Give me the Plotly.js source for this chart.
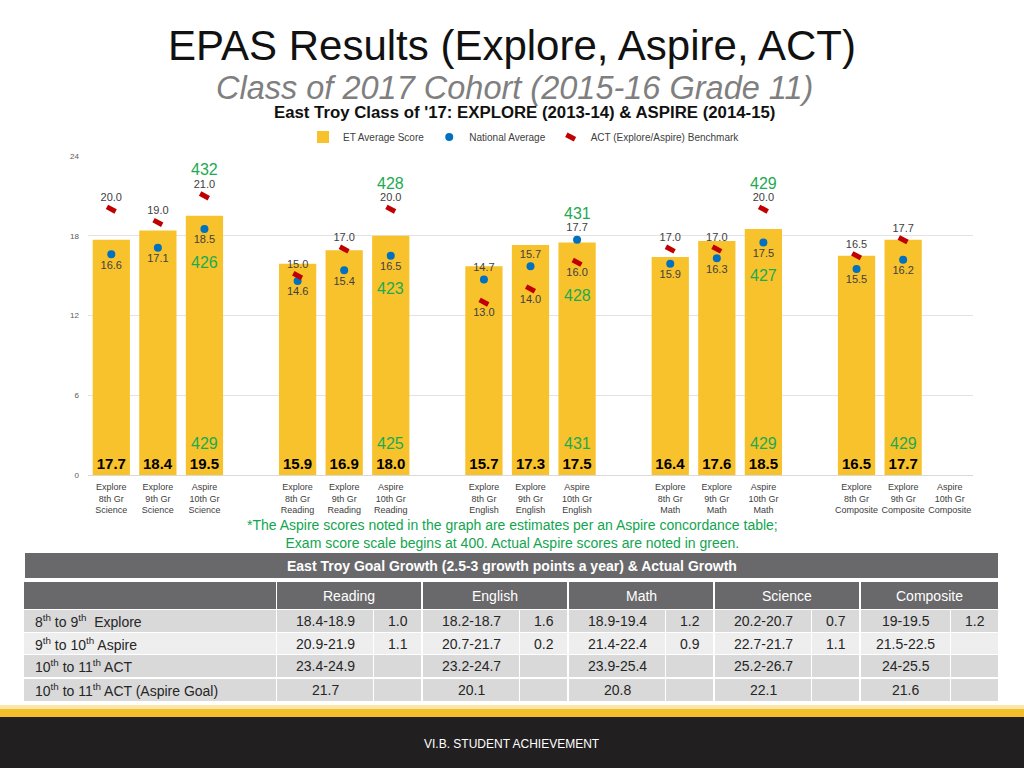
<!DOCTYPE html>
<html>
<head>
<meta charset="utf-8">
<script src="https://cdn.plot.ly/plotly-3.0.1.min.js"></script>
<style>
  html, body { margin: 0; padding: 0; background: #ffffff; }
  #chart { width: 1024px; height: 768px; }
</style>
</head>
<body>
<div id="chart"></div>
<script>
// ---------------- DATA ----------------
const categories = [
  'Explore<br>8th Gr<br>Science', 'Explore<br>9th Gr<br>Science', 'Aspire<br>10th Gr<br>Science',
  'Explore<br>8th Gr<br>Reading', 'Explore<br>9th Gr<br>Reading', 'Aspire<br>10th Gr<br>Reading',
  'Explore<br>8th Gr<br>English', 'Explore<br>9th Gr<br>English', 'Aspire<br>10th Gr<br>English',
  'Explore<br>8th Gr<br>Math', 'Explore<br>9th Gr<br>Math', 'Aspire<br>10th Gr<br>Math',
  'Explore<br>8th Gr<br>Composite', 'Explore<br>9th Gr<br>Composite', 'Aspire<br>10th Gr<br>Composite'
];
const etScore     = [17.7, 18.4, 19.5, 15.9, 16.9, 18.0, 15.7, 17.3, 17.5, 16.4, 17.6, 18.5, 16.5, 17.7, null];
const nationalAvg = [16.6, 17.1, 18.5, 14.6, 15.4, 16.5, 14.7, 15.7, 17.7, 15.9, 16.3, 17.5, 15.5, 16.2, null];
const benchmark   = [20.0, 19.0, 21.0, 15.0, 17.0, 20.0, 13.0, 14.0, 16.0, 17.0, 17.0, 20.0, 16.5, 17.7, null];

// Actual Aspire scores (green)
const greenUpperCats = ['Aspire<br>10th Gr<br>Science', 'Aspire<br>10th Gr<br>Reading', 'Aspire<br>10th Gr<br>English', 'Aspire<br>10th Gr<br>Math'];
const greenUpper = [432, 428, 431, 429];
const greenMiddle = [426, 423, 428, 427];
const greenBaseCats = ['Aspire<br>10th Gr<br>Science', 'Aspire<br>10th Gr<br>Reading', 'Aspire<br>10th Gr<br>English', 'Aspire<br>10th Gr<br>Math', 'Explore<br>9th Gr<br>Composite'];
const greenBase = [429, 425, 431, 429, 429];

// Table
const subjects = ['Reading', 'English', 'Math', 'Science', 'Composite'];
const rowLabels = [
  '8<sup>th</sup> to 9<sup>th</sup>  Explore',
  '9<sup>th</sup> to 10<sup>th</sup> Aspire',
  '10<sup>th</sup> to 11<sup>th</sup> ACT',
  '10<sup>th</sup> to 11<sup>th</sup> ACT (Aspire Goal)'
];
const readingGoal   = ['18.4-18.9', '20.9-21.9', '23.4-24.9', '21.7'];
const readingGrowth = ['1.0', '1.1', '', ''];
const englishGoal   = ['18.2-18.7', '20.7-21.7', '23.2-24.7', '20.1'];
const englishGrowth = ['1.6', '0.2', '', ''];
const mathGoal      = ['18.9-19.4', '21.4-22.4', '23.9-25.4', '20.8'];
const mathGrowth    = ['1.2', '0.9', '', ''];
const scienceGoal   = ['20.2-20.7', '22.7-21.7', '25.2-26.7', '22.1'];
const scienceGrowth = ['0.7', '1.1', '', ''];
const compositeGoal   = ['19-19.5', '21.5-22.5', '24-25.5', '21.6'];
const compositeGrowth = ['1.2', '', '', ''];

// ---------------- BUILD ----------------
const W = 1024, H = 768;
const px = x => x / W;
const py = y => 1 - y / H;

// axis categories with spacer slots between the subject groups
const groupSize = 3;
const fullCats = [];
categories.forEach((c, i) => {
  fullCats.push(c);
  if ((i + 1) % groupSize === 0 && i < categories.length - 1) fullCats.push('gap' + (i + 1));
});
// keep only points that have a value
function pick(vals, extra) {
  const idx = vals.map((v, i) => v == null ? -1 : i).filter(i => i >= 0);
  return { x: idx.map(i => categories[i]), y: idx.map(i => vals[i]), idx: idx };
}
const isEnglish = categories.map(c => c.indexOf('English') >= 0);
const etP = pick(etScore), natP = pick(nationalAvg), benP = pick(benchmark);

const FONT = 'Liberation Sans, Arial, sans-serif';

const traces = [
  {
    type: 'bar', name: 'ET Average Score',
    x: etP.x, y: etP.y,
    marker: { color: '#F8C22C' },
    texttemplate: '%{y:.1f}', textposition: 'inside', insidetextanchor: 'start',
    constraintext: 'none', textangle: 0,
    textfont: { size: 15, color: '#000000', family: FONT, weight: 'bold' },
    hoverinfo: 'skip'
  },
  {
    type: 'scatter', mode: 'markers+text', name: 'National Average',
    x: natP.x, y: natP.y,
    text: natP.y.map(v => v.toFixed(1)),
    textposition: natP.idx.map(i => isEnglish[i] ? 'top center' : 'bottom center'),
    textfont: { size: 11, color: '#404040', family: FONT },
    marker: { color: '#0070C0', size: 8 },
    cliponaxis: false, hoverinfo: 'skip'
  },
  {
    type: 'scatter', mode: 'markers+text', name: 'ACT (Explore/Aspire) Benchmark',
    x: benP.x, y: benP.y,
    text: benP.y.map(v => v.toFixed(1)),
    textposition: benP.idx.map(i => isEnglish[i] ? 'bottom center' : 'top center'),
    textfont: { size: 11, color: '#404040', family: FONT },
    marker: { symbol: 'line-ew', size: 7, angle: 28, color: '#C00000', line: { color: '#C00000', width: 5 } },
    cliponaxis: false, hoverinfo: 'skip'
  }
];

const annotations = [];
const shapes = [];
const GREEN = '#1DAA50';

// green actual Aspire scores
greenUpperCats.forEach((c, k) => {
  const i = categories.indexOf(c);
  const hi = Math.max(benchmark[i], nationalAvg[i]);
  const lo = Math.min(benchmark[i], nationalAvg[i]);
  annotations.push({ x: c, y: hi, xref: 'x', yref: 'y', text: String(greenUpper[k]), showarrow: false,
    yanchor: 'middle', yshift: 26, font: { size: 16, color: GREEN, family: FONT } });
  annotations.push({ x: c, y: lo, xref: 'x', yref: 'y', text: String(greenMiddle[k]), showarrow: false,
    yanchor: 'middle', yshift: -33, font: { size: 16, color: GREEN, family: FONT } });
});
greenBaseCats.forEach((c, k) => {
  annotations.push({ x: c, y: 0, xref: 'x', yref: 'y', text: String(greenBase[k]), showarrow: false,
    yanchor: 'middle', yshift: 32, font: { size: 16, color: GREEN, family: FONT } });
});

function txt(x, y, s, size, color, anchor, bold) {
  if (s === '' || s == null) return;
  annotations.push({ x: px(x), y: py(y), xref: 'paper', yref: 'paper', showarrow: false,
    xanchor: anchor || 'center', yanchor: 'middle',
    text: bold ? '<b>' + s + '</b>' : s, font: { size: size, color: color, family: FONT } });
}
function rect(x0, y0, x1, y1, color) {
  shapes.push({ type: 'rect', xref: 'paper', yref: 'paper', x0: px(x0), x1: px(x1), y0: py(y1), y1: py(y0),
    fillcolor: color, line: { width: 0 }, layer: 'above' });
}

// slide texts
txt(514, 88, '<i>Class of 2017 Cohort (2015-16 Grade 11)</i>', 32.5, '#7F7F7F');
txt(524, 112, "East Troy Class of '17: EXPLORE (2013-14) & ASPIRE (2014-15)", 16.8, '#111111', 'center', true);
txt(512, 534, '*The Aspire scores noted in the graph are estimates per an Aspire concordance table;<br>Exam score scale begins at 400. Actual Aspire scores are noted in green.', 14, '#12A54F');

// ---------------- TABLE ----------------
const DARK = '#69696B';
const tLeft = 24, tRight = 998;
const labelCol = [24, 276];
const subjCols = [[277, 373, 421], [423, 519, 567], [569, 665, 713], [715, 811, 859], [861, 950, 998]];
const rowsY = [[610, 632], [633, 654], [655, 677], [679, 701]];
const rowFill = ['#D9D9D9', '#EEEEEE', '#D9D9D9', '#D9D9D9'];
const goals = [readingGoal, englishGoal, mathGoal, scienceGoal, compositeGoal];
const growths = [readingGrowth, englishGrowth, mathGrowth, scienceGrowth, compositeGrowth];

rect(tLeft + 1, 553, tRight, 578, DARK);
txt(512, 566, 'East Troy Goal Growth (2.5-3 growth points a year) & Actual Growth', 14, '#FFFFFF', 'center', true);
rect(labelCol[0], 582, labelCol[1], 609, DARK);
subjCols.forEach((c, s) => {
  rect(c[0], 582, c[2], 609, DARK);
  txt((c[0] + c[2]) / 2, 596, subjects[s], 14, '#FFFFFF');
});
rowsY.forEach((r, ri) => {
  rect(labelCol[0], r[0], labelCol[1], r[1], rowFill[ri]);
  txt(33, (r[0] + r[1]) / 2, rowLabels[ri], 14, '#262626', 'left');
  subjCols.forEach((c, s) => {
    rect(c[0], r[0], c[1], r[1], rowFill[ri]);
    rect(c[1] + 1, r[0], c[2], r[1], rowFill[ri]);
    txt((c[0] + c[1]) / 2, (r[0] + r[1]) / 2, goals[s][ri], 14, '#262626');
    txt((c[1] + 1 + c[2]) / 2, (r[0] + r[1]) / 2, growths[s][ri], 14, '#262626');
  });
});

// footer
rect(0, 705, W, 710, '#FBE6A8');
rect(0, 709, W, 717, '#F4BD2A');
rect(0, 717, W, H, '#221F20');
txt(512, 744, 'VI.B. STUDENT ACHIEVEMENT', 12, '#FFFFFF');

const layout = {
  width: W, height: H,
  margin: { l: 0, r: 0, t: 0, b: 0 },
  paper_bgcolor: '#FFFFFF', plot_bgcolor: '#FFFFFF',
  font: { family: FONT, color: '#404040' },
  title: { text: 'EPAS Results (Explore, Aspire, ACT)', x: 0.5, xanchor: 'center', xref: 'paper',
           y: py(45), yanchor: 'middle', yref: 'container',
           font: { size: 42, color: '#111111', family: FONT } },
  showlegend: true,
  legend: { orientation: 'h', x: px(524), xanchor: 'center', y: py(137), yanchor: 'middle',
            font: { size: 10, color: '#404040', family: FONT }, itemwidth: 30, bgcolor: 'rgba(0,0,0,0)' },
  bargap: 0.2,
  xaxis: {
    domain: [px(88), px(973)],
    type: 'category', categoryorder: 'array', categoryarray: fullCats,
    range: [-0.5, fullCats.length - 0.5], autorange: false,
    tickmode: 'array', tickvals: categories, ticktext: categories, tickangle: 0,
    tickfont: { size: 9, color: '#404040', family: FONT }, ticklabelstandoff: 3,
    showline: true, linecolor: '#D9D9D9', linewidth: 1, ticks: '', showgrid: false, fixedrange: true
  },
  yaxis: {
    domain: [py(475), py(156)],
    range: [0, 24], autorange: false, tickvals: [0, 6, 12, 18, 24],
    tickfont: { size: 8, color: '#595959', family: FONT }, ticklabelstandoff: 8,
    showgrid: true, gridcolor: '#E3E3E3', gridwidth: 1, zeroline: false, showline: false, ticks: '',
    fixedrange: true
  },
  annotations: annotations,
  shapes: shapes
};

Plotly.newPlot('chart', traces, layout, { displayModeBar: false, staticPlot: true });
</script>
</body>
</html>
